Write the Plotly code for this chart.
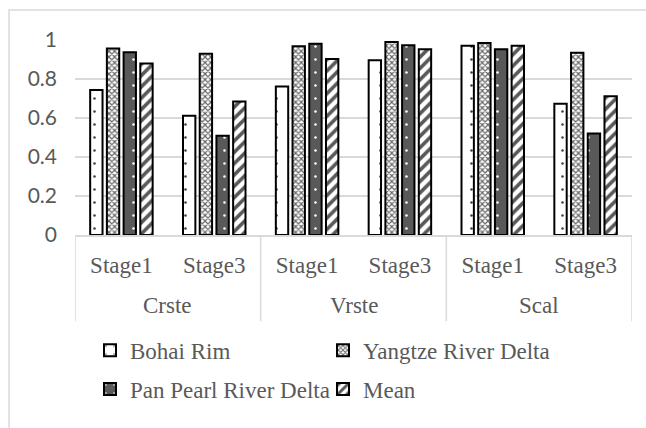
import plotly.graph_objects as go

# Regions and stages (two-level category axis)
regions = ["Crste", "Crste", "Vrste", "Vrste", "Scal", "Scal"]
stages = ["Stage1", "Stage3", "Stage1", "Stage3", "Stage1", "Stage3"]

# Efficiency values per area
bohai_rim = [0.743, 0.612, 0.762, 0.896, 0.971, 0.673]
yangtze_delta = [0.956, 0.930, 0.968, 0.990, 0.985, 0.935]
pan_pearl_delta = [0.937, 0.509, 0.981, 0.973, 0.952, 0.520]
mean_values = [0.879, 0.685, 0.903, 0.952, 0.971, 0.711]

series_names = ["Bohai Rim", "Yangtze River Delta", "Pan Pearl River Delta", "Mean"]

GRAY = "#595959"
GRID = "#d9d9d9"
SERIF = "Liberation Serif"

# unique category keys, labelled by stage on the axis
keys = [f"{r}|{s}" for r, s in zip(regions, stages)]

patterns = [
    dict(shape=".", fgcolor="#404040", bgcolor="white", size=13, solidity=0.03, fillmode="replace"),
    dict(shape="x", fgcolor="#666666", bgcolor="white", size=4, solidity=0.5, fillmode="replace"),
    dict(shape=".", fgcolor="white", bgcolor=GRAY, size=13, solidity=0.03, fillmode="replace"),
    dict(shape="/", fgcolor=GRAY, bgcolor="white", size=8, solidity=0.45, fillmode="replace"),
]
fills = ["white", "white", GRAY, "white"]
legends = ["legend", "legend", "legend2", "legend2"]

fig = go.Figure()
for name, vals, pat, fill, lg in zip(series_names,
                                     [bohai_rim, yangtze_delta, pan_pearl_delta, mean_values],
                                     patterns, fills, legends):
    fig.add_trace(go.Bar(
        x=keys, y=vals, name=name,
        marker=dict(color=fill, pattern=pat, line=dict(color="black", width=2)),
        legend=lg,
    ))

W, H = 646, 428
ML, MR, MT, MB = 75, 13.5, 40, 192.5
pw = W - ML - MR
ph = H - MT - MB


def py(pixel_y):
    """Convert a page pixel row to paper y."""
    return (MT + ph - pixel_y) / ph


def px(pixel_x):
    return (pixel_x - ML) / pw


# group boundaries and centres along the category axis
groups = []
for i, r in enumerate(regions):
    if not groups or groups[-1][0] != r:
        groups.append([r, i, i])
    else:
        groups[-1][2] = i

shapes = [dict(type="rect", xref="paper", yref="paper",
               x0=px(9), x1=px(W + 5), y0=py(H + 5), y1=py(10),
               line=dict(color=GRID, width=1.5), layer="below")]
bounds = [g[1] - 0.5 for g in groups] + [groups[-1][2] + 0.5]
for b in bounds:
    shapes.append(dict(type="line", xref="x", yref="paper", x0=b, x1=b,
                       y0=0, y1=py(322), line=dict(color=GRID, width=1.5)))

annotations = [dict(xref="x", yref="paper", x=(g[1] + g[2]) / 2, y=py(306),
                    text=g[0], showarrow=False, yanchor="middle",
                    font=dict(family=SERIF, size=23, color=GRAY))
               for g in groups]

legend_common = dict(
    orientation="h", xanchor="left", yanchor="middle",
    font=dict(family=SERIF, size=23, color=GRAY),
    entrywidth=188, entrywidthmode="pixels",
    bgcolor="rgba(0,0,0,0)", itemclick=False,
)

fig.update_layout(
    width=W, height=H,
    margin=dict(l=ML, r=MR, t=MT, b=MB),
    paper_bgcolor="white", plot_bgcolor="white",
    barmode="group", bargap=0.28, bargroupgap=0.26,
    showlegend=True,
    legend=dict(x=px(90), y=py(351), **legend_common),
    legend2=dict(x=px(90), y=py(390), **legend_common),
    xaxis=dict(
        type="category", range=[-0.5, len(keys) - 0.5],
        tickmode="array", tickvals=keys, ticktext=stages,
        showline=True, linecolor=GRID, linewidth=1.5,
        tickfont=dict(family=SERIF, size=23, color=GRAY),
        ticks="", showgrid=False, ticklabelstandoff=9,
    ),
    yaxis=dict(
        range=[0, 1], dtick=0.2, tick0=0,
        showgrid=True, gridcolor=GRID, gridwidth=1.5,
        zeroline=False, showline=False,
        tickfont=dict(family="Lato", size=21, color=GRAY),
        ticklabelstandoff=17,
    ),
    shapes=shapes,
    annotations=annotations,
)

fig.write_html("out.html")
